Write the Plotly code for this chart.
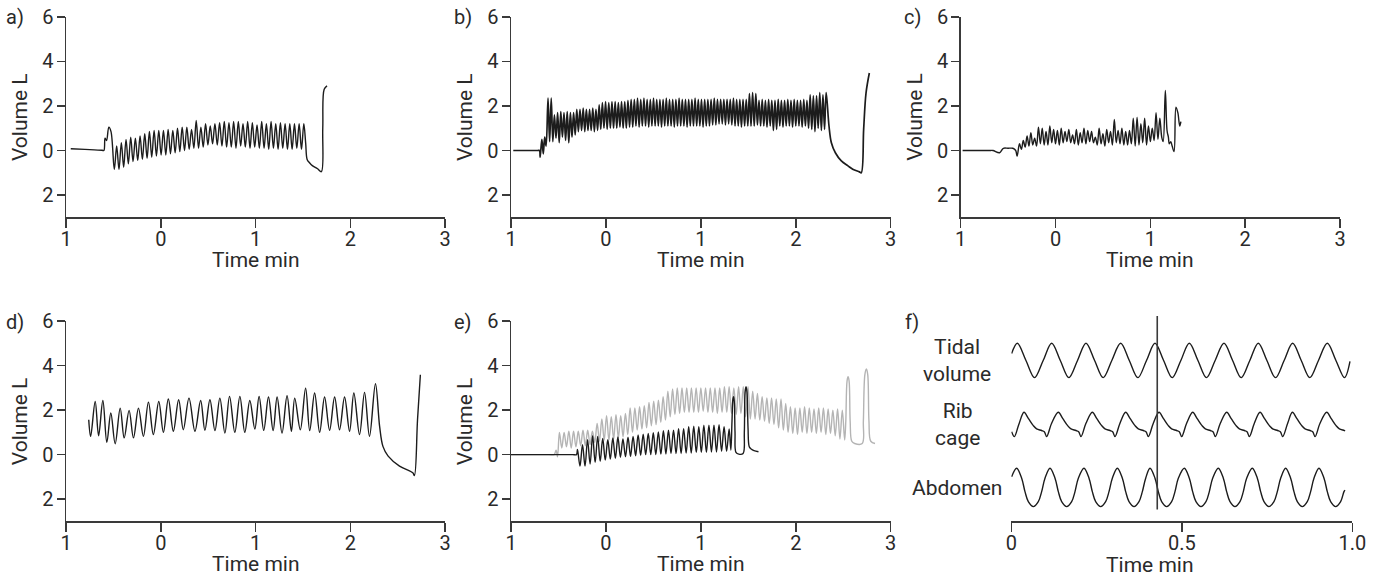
import numpy as np
import plotly.graph_objects as go

W, H = 1381, 581
FONT = "Roboto"
FS = 20      # tick labels
FS_T = 21    # titles and labels
INK = "#1c1c1c"
AXIS = "#3a3a3a"
GREY = "#b4b4b4"
TXT = "#2a2a2a"

# ---------------- data ----------------
# a) time in min, volume in L
a_lead_t = [-0.95, -0.80, -0.62, -0.60, -0.588, -0.572, -0.548, -0.525]
a_lead_v = [0.08, 0.05, 0.01, 0.0, 0.55, 0.45, 1.05, 0.85]
a_osc_span = (-0.49, 1.51)
a_troughs = [-0.85, -0.85, -0.75, -0.6, -0.5, -0.45, -0.4, -0.35, -0.3, -0.25,
             -0.2, -0.2, -0.15, -0.1, -0.05, 0.0, 0.05, 0.1, 0.1, 0.15,
             0.25, 0.3, 0.25, 0.2, 0.15, 0.15, 0.1, 0.2, 0.15, 0.1,
             0.15, 0.1, 0.1, 0.05, 0.1, 0.05, 0.1, 0.05, 0.05, 0.1, 0.05]
a_peaks = [0.2, 0.35, 0.5, 0.6, 0.55, 0.65, 0.75, 0.85, 0.9, 0.9,
           0.9, 0.95, 0.9, 1.0, 1.05, 1.05, 0.95, 1.35, 1.05, 1.2,
           1.1, 1.2, 1.25, 1.3, 1.25, 1.3, 1.3, 1.2, 1.3, 1.25,
           1.15, 1.3, 1.2, 1.3, 1.2, 1.25, 1.2, 1.2, 1.2, 1.2, 1.2]
a_tail_t = [1.53, 1.545, 1.57, 1.60, 1.655, 1.695, 1.71, 1.725, 1.755]
a_tail_v = [0.3, -0.4, -0.55, -0.68, -0.82, -0.95, 1.0, 2.75, 2.9]

# b)
b_lead_t = [-0.976, -0.85, -0.72, -0.70, -0.693, -0.675, -0.66, -0.645, -0.63]
b_lead_v = [0.0, 0.0, 0.0, 0.0, -0.3, 0.5, -0.15, 0.6, 0.2]
b_osc_span = (-0.61, 2.32)
b_peaks = [2.35, 2.35,
           1.6, 1.7, 1.75, 1.7, 1.75, 1.7, 1.7,
           1.85, 1.85, 1.9, 1.85, 1.85, 1.9, 1.85,
           2.05, 2.15, 2.2, 2.15, 2.2, 2.2, 2.15, 2.2, 2.2, 2.25, 2.3,
           2.3, 2.35, 2.3, 2.35, 2.3, 2.3, 2.35, 2.3, 2.3, 2.3, 2.35, 2.3,
           2.3, 2.3, 2.35, 2.3, 2.3, 2.3, 2.3, 2.35, 2.3, 2.3, 2.3, 2.3,
           2.3, 2.35, 2.3, 2.3, 2.3, 2.3, 2.3, 2.35, 2.3, 2.3, 2.3, 2.3,
           2.55, 2.6, 2.55,
           2.25, 2.3, 2.25, 2.3, 2.25, 2.25, 2.3, 2.25, 2.25, 2.3, 2.25, 2.3,
           2.25, 2.25, 2.3, 2.25,
           2.5, 2.45, 2.45, 2.6, 2.5, 2.6]
b_troughs = [0.4, 0.4,
             0.55, 0.35, 0.6, 0.45, 0.35, 0.6, 0.7,
             0.85, 0.9, 0.85, 0.9, 0.9, 0.85, 0.9,
             0.95, 1.0, 0.95, 1.0, 1.0, 1.0, 1.05, 1.0, 1.0, 1.05, 1.05,
             1.1, 1.05, 1.1, 1.1, 1.05, 1.1, 1.1, 1.1, 1.05, 1.1, 1.1, 1.1,
             1.05, 1.1, 1.1, 1.1, 1.05, 1.1, 1.1, 1.1, 1.1, 1.05, 1.1, 1.1,
             1.15, 1.15, 1.2, 1.2, 1.15, 1.2, 1.15, 1.1, 1.1, 1.05, 1.1, 1.1,
             1.1, 1.1, 1.15,
             1.1, 1.1, 1.05, 1.1, 0.9, 0.95, 1.1, 1.05, 1.1, 1.1, 1.05, 1.1,
             1.1, 1.05, 1.1, 1.0,
             0.95, 0.85, 1.0, 0.9, 0.95]
b_tail_t = [2.35, 2.375, 2.417, 2.48, 2.55, 2.60, 2.67, 2.69, 2.715, 2.74, 2.775]
b_tail_v = [1.1, 0.35, -0.1, -0.47, -0.69, -0.84, -0.96, -1.0, 0.95, 2.58, 3.48]

# c)
c_lead_t = [-0.98, -0.85, -0.70, -0.66, -0.59, -0.55, -0.50, -0.45, -0.42, -0.405]
c_lead_v = [0.0, 0.0, 0.0, 0.0, -0.1, 0.1, 0.1, 0.1, 0.0, -0.25]
c_osc_span = (-0.38, 1.10)
c_peaks = [0.3, 0.45, 0.65, 0.8, 0.55, 1.05, 1.0, 0.85, 1.1, 0.95,
           0.9, 1.0, 0.85, 0.95, 0.7, 0.95, 0.8, 1.0, 0.9, 0.85,
           0.6, 1.0, 0.75, 0.95, 0.85, 1.4, 0.9, 1.0, 0.85, 0.9,
           1.45, 1.5, 1.2, 1.45, 1.1, 1.0, 1.7, 1.45]
c_troughs = [0.05, 0.15, 0.2, 0.25, 0.2, 0.3, 0.25, 0.25, 0.35, 0.3,
             0.25, 0.35, 0.4, 0.35, 0.3, 0.25, 0.35, 0.3, 0.4, 0.35,
             0.25, 0.3, 0.2, 0.35, 0.25, 0.35, 0.3, 0.25, 0.25, 0.3,
             0.2, 0.25, 0.35, 0.25, 0.4, 0.45, 0.5]
c_tail_t = [1.12, 1.135, 1.158, 1.176, 1.19, 1.20, 1.215, 1.23, 1.25, 1.27, 1.29, 1.31, 1.322]
c_tail_v = [0.6, 0.4, 2.7, 0.9, 0.6, 0.3, 0.4, 0.2, -0.05, 1.95, 1.7, 1.1, 1.3]

# d)
d_lead_t = [-0.76, -0.74]
d_lead_v = [1.57, 0.82]
d_peak_t = [-0.692, -0.611, -0.527, -0.428, -0.334, -0.235, -0.130, -0.021, 0.080, 0.189,
            0.298, 0.421, 0.519, 0.624, 0.726, 0.835, 0.940, 1.038, 1.137, 1.228,
            1.333, 1.414, 1.529, 1.624, 1.729, 1.835, 1.940, 2.038, 2.151, 2.266]
d_peak_v = [2.39, 2.43, 1.87, 2.09, 1.99, 2.09, 2.36, 2.39, 2.5, 2.47,
            2.54, 2.43, 2.47, 2.54, 2.62, 2.62, 2.43, 2.62, 2.59, 2.59,
            2.65, 2.54, 2.99, 2.77, 2.59, 2.59, 2.59, 2.77, 2.8, 3.19]
d_trough_t = [-0.656, -0.569, -0.481, -0.386, -0.288, -0.183, -0.078, 0.028, 0.133, 0.238,
              0.361, 0.466, 0.572, 0.677, 0.782, 0.887, 0.993, 1.087, 1.186, 1.280,
              1.379, 1.473, 1.572, 1.677, 1.782, 1.887, 1.993, 2.098, 2.203]
d_trough_v = [0.85, 0.55, 0.49, 0.75, 0.75, 0.82, 0.9, 1.0, 1.05, 1.12,
              1.05, 1.09, 1.08, 0.97, 1.0, 1.0, 1.15, 1.09, 1.08, 0.97,
              1.05, 1.12, 1.08, 1.0, 1.09, 1.12, 1.05, 0.9, 0.82]
d_tail_t = [2.31, 2.345, 2.40, 2.52, 2.66, 2.677, 2.71, 2.74]
d_tail_v = [1.27, 0.37, -0.07, -0.52, -0.82, -0.94, 1.57, 3.59]

# e) black trace
eb_lead_t = [-1.0, -0.8, -0.6, -0.45, -0.35, -0.31]
eb_lead_v = [0.0, 0.0, 0.0, 0.0, 0.0, 0.0]
eb_osc_span = (-0.30, 1.298)
eb_peaks = [0.23, 0.45, 0.67, 0.85, 0.82, 0.73, 0.67, 0.75, 0.79, 0.7,
            0.78, 0.82, 0.88, 0.92, 0.95, 0.98, 1.02, 1.07, 1.1, 1.1,
            1.17, 1.17, 1.25, 1.28, 1.25, 1.32, 1.32, 1.32, 1.35, 1.25, 1.15]
eb_troughs = [-0.52, -0.52, -0.42, -0.35, -0.3, -0.25, -0.2, -0.17, -0.12, -0.1,
              -0.08, -0.05, -0.03, 0.0, 0.0, 0.0, 0.02, 0.03, 0.05, 0.05,
              0.05, 0.07, 0.07, 0.1, 0.1, 0.1, 0.12, 0.12, 0.15, 0.15]
eb_tail_t = [1.316, 1.328, 1.338, 1.345, 1.352, 1.36, 1.37, 1.40, 1.445, 1.458,
             1.466, 1.476, 1.486, 1.497, 1.51, 1.53, 1.56, 1.607]
eb_tail_v = [0.2, 1.5, 2.5, 2.6, 2.4, 1.0, 0.1, 0.02, 0.05, 1.0,
             2.8, 3.05, 2.8, 1.2, 0.35, 0.25, 0.18, 0.13]

# e) grey trace
eg_lead_t = [-1.0, -0.8, -0.6, -0.545, -0.525, -0.51]
eg_lead_v = [0.0, 0.0, 0.0, 0.0, 0.2, -0.1]
eg_osc_span = (-0.49, 2.49)
eg_peaks = [1.0, 1.0, 1.05, 1.05, 1.05, 1.1, 1.1, 1.05,
            1.4, 1.6, 1.75,
            1.7, 1.8, 1.75, 1.85,
            2.1, 2.1, 2.15, 2.2, 2.35,
            2.4, 2.45, 2.6, 2.85,
            2.95, 3.0, 3.0, 3.0, 3.0, 3.0, 3.0, 3.0, 3.0, 3.0, 3.0, 3.05, 3.05, 3.0, 3.05, 3.05, 3.05,
            2.85, 2.75, 2.6, 2.55, 2.55, 2.5, 2.5,
            2.3, 2.15, 2.1, 2.1, 2.15, 2.1, 2.05, 2.1, 2.1, 2.05, 2.0, 2.05, 2.0]
eg_troughs = [0.3, 0.35, 0.3, 0.35, 0.4, 0.4, 0.45, 0.55,
              0.6, 0.65, 0.65,
              0.7, 0.75, 0.8, 0.9,
              1.0, 1.1, 1.15, 1.2, 1.3,
              1.35, 1.45, 1.55, 1.7,
              1.8, 1.85, 1.9, 1.9, 1.9, 1.9, 1.95, 1.9, 1.9, 1.85, 1.9, 1.9, 1.85, 1.8, 1.85, 1.7, 1.6,
              1.6, 1.55, 1.5, 1.4, 1.35, 1.2, 1.1,
              1.0, 0.95, 0.9, 1.0, 0.95, 1.0, 0.95, 1.0, 0.9, 0.95, 0.85, 0.7]
eg_tail_t = [2.515, 2.527, 2.54, 2.551, 2.562, 2.573, 2.59, 2.62, 2.70,
             2.712, 2.728, 2.744, 2.758, 2.771, 2.79, 2.835]
eg_tail_v = [0.65, 1.5, 3.3, 3.5, 3.3, 1.5, 0.6, 0.5, 0.5,
             1.5, 3.6, 3.85, 3.6, 1.5, 0.6, 0.5]

# f) normalised traces (0 = trough, 1 = peak), time in min
f_labels = ["Tidal<br>volume", "Rib<br>cage", "Abdomen"]
tv_peak_t = [0.0177, 0.1184, 0.2190, 0.3207, 0.4214, 0.5220, 0.6237, 0.7243, 0.8250, 0.9267]
tv_cycle_t = [0.0, 0.0253, 0.0505, 0.0758]
tv_cycle_v = [1.0, 0.5, 0.0, 0.5]
tv_start = (0.001, 0.7)
tv_end = (0.9932, 0.47)
rc_peak_t = [0.0372, 0.1379, 0.2376, 0.3354, 0.4331, 0.5319, 0.6317, 0.7294, 0.8243, 0.9250]
rc_cycle_t = [0.0, 0.0127, 0.0274, 0.0371, 0.0518, 0.0596, 0.0665, 0.0811]
rc_cycle_v = [1.0, 0.75, 0.45, 0.32, 0.25, 0.2, 0.0, 0.55]
rc_lead_t = [0.001, 0.009, 0.022]
rc_lead_v = [0.2, 0.0, 0.5]
rc_end = (0.9786, 0.23)
ab_peak_t = [0.0157, 0.1135, 0.2132, 0.3110, 0.4067, 0.5074, 0.6071, 0.7068, 0.8045, 0.9023]
ab_cycle_t = [0.0, 0.0147, 0.0244, 0.0342, 0.0489, 0.0635, 0.0733, 0.0831]
ab_cycle_v = [1.0, 0.74, 0.39, 0.13, 0.0, 0.13, 0.39, 0.74]
ab_start = (0.001, 0.78)
ab_end = (0.9786, 0.43)
f_marker_t = 0.428

# ---------------- layout geometry (pixels) ----------------
def px(x):
    return x / W


def py(y):
    return 1 - y / H


ROW_TOP = (16.9, 217.3)
ROW_BOT = (321.2, 521.3)
COL = [(66.0, 445.0), (511.0, 890.7), (960.7, 1340.0)]
F_X = (1011.3, 1352.3)
F_Y = (316.0, 521.3)
# offsets / heights of the three stacked traces in panel f (pixels above the axis)
F_BASE = [143.7, 84.7, 14.7]
F_AMP = [34.3, 24.3, 38.4]


def alternate(first, second):
    out = []
    for i, v in enumerate(first):
        out.append(v)
        if i < len(second):
            out.append(second[i])
    return out


def series(lead_t, lead_v, span, first, second, tail_t, tail_v):
    osc = alternate(first, second)
    ts = np.linspace(span[0], span[1], len(osc))
    return list(lead_t) + list(ts) + list(tail_t), list(lead_v) + osc + list(tail_v)


def repeat_cycles(peaks, cyc_t, cyc_v, end):
    t, v = [], []
    for p in peaks:
        for dt, val in zip(cyc_t, cyc_v):
            if p + dt < end[0]:
                t.append(p + dt)
                v.append(val)
    return t, v


fig = go.Figure()


def line(x, y, ax, color=INK, width=1.4):
    fig.add_trace(go.Scatter(x=x, y=y, mode="lines", xaxis="x" + ax, yaxis="y" + ax,
                             line=dict(color=color, width=width, shape="spline", smoothing=1),
                             hoverinfo="skip", showlegend=False))


ta, va = series(a_lead_t, a_lead_v, a_osc_span, a_troughs, a_peaks, a_tail_t, a_tail_v)
line(ta, va, "")
tb, vb = series(b_lead_t, b_lead_v, b_osc_span, b_peaks, b_troughs, b_tail_t, b_tail_v)
line(tb, vb, "2", width=1.7)
tc, vc = series(c_lead_t, c_lead_v, c_osc_span, c_peaks, c_troughs, c_tail_t, c_tail_v)
line(tc, vc, "3", width=1.4)

pts = sorted(zip(d_lead_t + d_peak_t + d_trough_t + d_tail_t,
                 d_lead_v + d_peak_v + d_trough_v + d_tail_v))
line([p[0] for p in pts], [p[1] for p in pts], "4")

tg, vg = series(eg_lead_t, eg_lead_v, eg_osc_span, eg_peaks, eg_troughs, eg_tail_t, eg_tail_v)
line(tg, vg, "5", color=GREY)
te, ve = series(eb_lead_t, eb_lead_v, eb_osc_span, eb_peaks, eb_troughs, eb_tail_t, eb_tail_v)
line(te, ve, "5")

# panel f
t1, v1 = repeat_cycles(tv_peak_t, tv_cycle_t, tv_cycle_v, tv_end)
t1 = [tv_start[0]] + t1 + [tv_end[0]]
v1 = [tv_start[1]] + v1 + [tv_end[1]]
t2, v2 = repeat_cycles(rc_peak_t, rc_cycle_t, rc_cycle_v, rc_end)
t2 = rc_lead_t + t2 + [rc_end[0]]
v2 = rc_lead_v + v2 + [rc_end[1]]
t3, v3 = repeat_cycles(ab_peak_t, ab_cycle_t, ab_cycle_v, ab_end)
t3 = [ab_start[0]] + t3 + [ab_end[0]]
v3 = [ab_start[1]] + v3 + [ab_end[1]]
for (tt, vv), base, amp in zip([(t1, v1), (t2, v2), (t3, v3)], F_BASE, F_AMP):
    line(tt, [base + amp * q for q in vv], "6")

# ---------------- axes ----------------
tickfont = dict(family=FONT, size=FS, color=TXT)
common = dict(showline=True, linecolor=AXIS, linewidth=1.5, ticks="outside",
              tickcolor=AXIS, tickwidth=1.5, showgrid=False, zeroline=False,
              tickfont=tickfont, fixedrange=True, automargin=False)

x_tickvals = [-1, 0, 1, 2, 3]
x_ticktext = ["1", "0", "1", "2", "3"]
y_tickvals = [6, 4, 2, 0, -2]
y_ticktext = ["6", "4", "2", "0", "2"]

layout = dict(template="none", width=W, height=H, margin=dict(l=0, r=0, t=0, b=0, pad=0),
              autosize=False,
              paper_bgcolor="white", plot_bgcolor="white", showlegend=False,
              font=dict(family=FONT, size=FS, color=TXT))

panels = [("", COL[0], ROW_TOP), ("2", COL[1], ROW_TOP), ("3", COL[2], ROW_TOP),
          ("4", COL[0], ROW_BOT), ("5", COL[1], ROW_BOT)]
for ax, (x0, x1), (y0, y1) in panels:
    layout["xaxis" + ax] = dict(common, domain=[px(x0), px(x1)], range=[-1, 3],
                                tickvals=x_tickvals, ticktext=x_ticktext, ticklen=9,
                                ticklabelstandoff=-6, anchor="y" + ax)
    layout["yaxis" + ax] = dict(common, domain=[py(y1), py(y0)], range=[-3, 6],
                                tickvals=y_tickvals, ticktext=y_ticktext, ticklen=8,
                                ticklabelstandoff=-1, anchor="x" + ax)

layout["xaxis6"] = dict(common, domain=[px(F_X[0]), px(F_X[1])], range=[0, 1],
                        tickvals=[0, 0.5, 1.0], ticktext=["0", "0.5", "1.0"], ticklen=9,
                        ticklabelstandoff=-6, anchor="y6")
layout["yaxis6"] = dict(visible=False, domain=[py(F_Y[1]), py(F_Y[0])],
                        range=[0, F_Y[1] - F_Y[0]], anchor="x6", fixedrange=True,
                        automargin=False, showgrid=False, zeroline=False)

fig.update_layout(**layout)

fig.add_shape(type="line", xref="x6", yref="y6", x0=f_marker_t, x1=f_marker_t,
              y0=F_Y[1] - 509.5, y1=F_Y[1] - F_Y[0], line=dict(color=AXIS, width=1.6))

ann = []


def text(x, y, s, angle=0, xanchor="center", size=FS_T):
    ann.append(dict(x=px(x), y=py(y), xref="paper", yref="paper", text=s, showarrow=False,
                    textangle=angle, xanchor=xanchor, yanchor="middle",
                    font=dict(family=FONT, size=size, color=TXT)))


for lab, x, y in [("a)", 15, 17), ("b)", 463, 17), ("c)", 912, 17),
                  ("d)", 15, 322), ("e)", 463, 322), ("f)", 912, 322)]:
    text(x, y, lab, size=FS)

for (x0, x1), (y0, y1) in [(COL[0], ROW_TOP), (COL[1], ROW_TOP), (COL[2], ROW_TOP),
                           (COL[0], ROW_BOT), (COL[1], ROW_BOT)]:
    text(x0 - 46, (y0 + y1) / 2, "Volume L", angle=-90)
    text((x0 + x1) / 2, y1 + 43, "Time min")
text(1150, 565, "Time min")

for lab, y in zip(f_labels, [360.5, 424.5, 488.3]):
    text(957, y, lab)

fig.update_layout(annotations=ann)
fig.write_html("out.html", config={"displayModeBar": False, "staticPlot": True},
               post_script="document.body.style.margin='0px';"
                           "document.body.style.overflow='hidden';")
